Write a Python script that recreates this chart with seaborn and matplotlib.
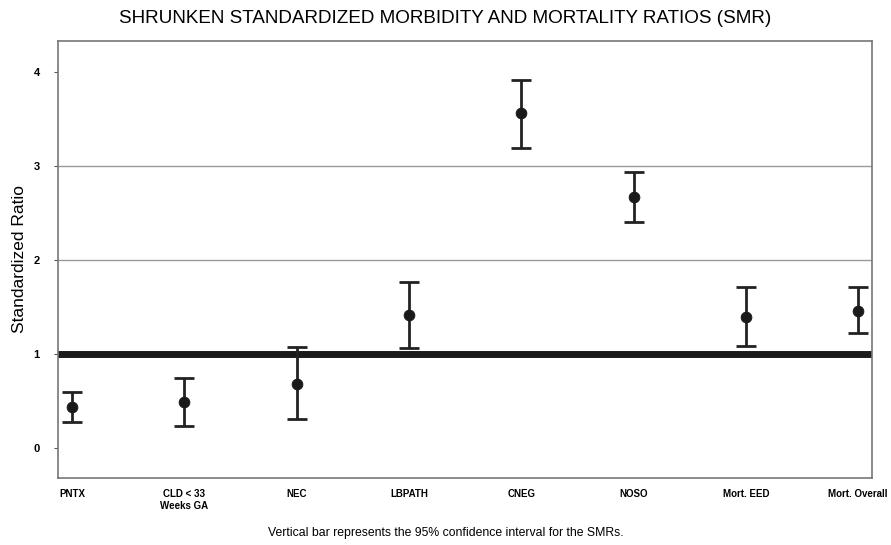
import matplotlib
matplotlib.use("Agg")
import matplotlib.pyplot as plt
import numpy as np
import pandas as pd
import seaborn as sns

# values
categories = ["PNTX", "CLD < 33\nWeeks GA", "NEC", "LBPATH", "CNEG", "NOSO", "Mort. EED", "Mort. Overall"]
smr = [0.43, 0.49, 0.68, 1.41, 3.56, 2.67, 1.39, 1.46]
ci_low = [0.28, 0.23, 0.31, 1.06, 3.19, 2.40, 1.08, 1.22]
ci_high = [0.59, 0.74, 1.07, 1.77, 3.91, 2.94, 1.71, 1.71]
y_ticks = [0, 1, 2, 3, 4]

df = pd.DataFrame({"cat": categories, "smr": smr, "lo": ci_low, "hi": ci_high})

sns.set_style("white")
plt.rcParams["font.family"] = ["Liberation Sans", "DejaVu Sans"]
plt.rcParams["text.color"] = "black"
plt.rcParams["axes.labelcolor"] = "black"
plt.rcParams["xtick.color"] = "black"
plt.rcParams["ytick.color"] = "black"

fig = plt.figure(figsize=(8.91, 5.45), dpi=100)
ax = fig.add_axes([0.065, 0.123, 0.914, 0.802])

# gridlines only at 2 and 3
for g in [2, 3]:
    ax.axhline(g, color="#999999", lw=1.0, zorder=0)

# reference line at 1
ax.axhline(1, color="#1a1a1a", lw=5, zorder=1)

xpos = np.arange(len(categories))
ax.errorbar(xpos, df["smr"], yerr=[df["smr"] - df["lo"], df["hi"] - df["smr"]],
            fmt="none", ecolor="#222222", elinewidth=2, capsize=7, capthick=2, zorder=2)
sns.scatterplot(data=df, x="cat", y="smr", ax=ax, color="#1a1a1a", s=60,
                edgecolor="#1a1a1a", zorder=3, legend=False)

ax.set_xlim(-0.125, len(categories) - 1 + 0.125)
ax.set_ylim(-0.32, 4.33)
ax.set_yticks(y_ticks)
ax.set_yticklabels([str(t) for t in y_ticks], fontsize=8, fontweight="bold")
ax.set_xticks(xpos)
ax.set_xticklabels(categories, fontsize=7, fontweight="bold")
ax.tick_params(axis="y", length=3, width=0.8, color="#555555", left=True, pad=10)
ax.tick_params(axis="x", length=0, pad=8)
ax.set_xlabel("")
ax.set_ylabel("Standardized Ratio", fontsize=12.5, labelpad=5)

for s in ax.spines.values():
    s.set_color("#777777")
    s.set_linewidth(1.2)

fig.text(0.5, 0.966, "SHRUNKEN STANDARDIZED MORBIDITY AND MORTALITY RATIOS (SMR)",
         ha="center", va="center", fontsize=13.6)
fig.text(0.5, 0.022, "Vertical bar represents the 95% confidence interval for the SMRs.",
         ha="center", va="center", fontsize=8.8)

fig.savefig("out.png", dpi=100)
